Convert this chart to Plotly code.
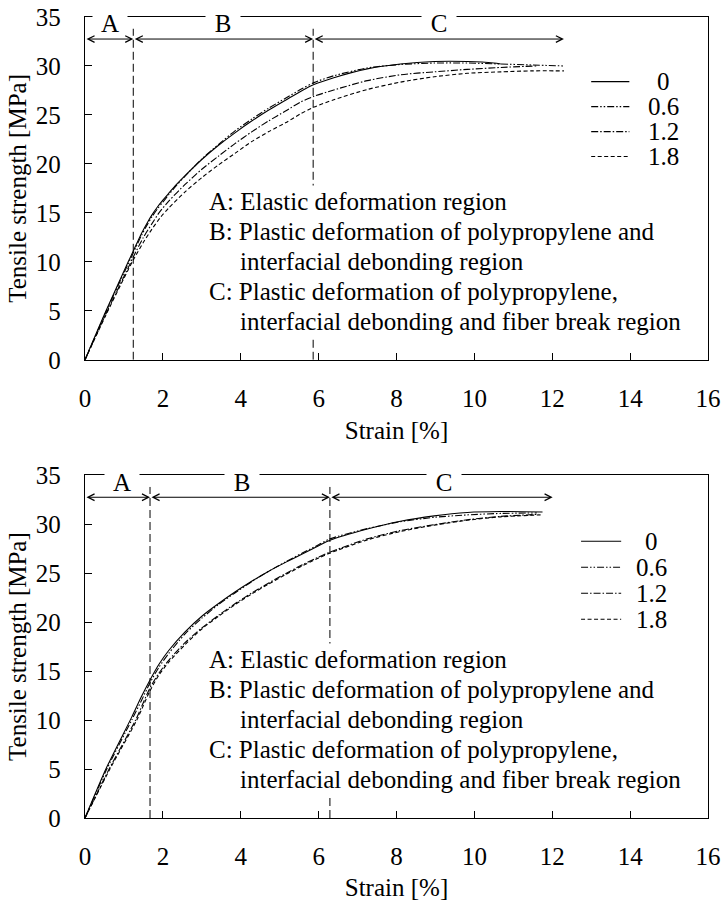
import plotly.graph_objects as go

FONT = "Liberation Serif"

series_names = ["0", "0.6", "1.2", "1.8"]
line_dashes = ["solid", "7px,2px,1.5px,2px,1.5px,2px", "7px,2px,1.5px,2px", "4px,2.5px"]

# ---------------- upper chart data ----------------
top_x_0 = [0, 0.54, 1.11, 1.24, 1.45, 1.6, 1.72, 1.86, 2.0, 2.15, 2.35, 2.57, 3.0, 3.43, 3.86, 4.29, 4.72, 5.15, 5.58, 5.88, 6.39, 7.25, 8.1, 8.97, 9.82, 10.5, 10.68]
top_y_0 = [0, 5.0, 10.0, 11.1, 12.9, 14.0, 14.8, 15.6, 16.3, 17.0, 17.9, 18.8, 20.45, 21.9, 23.2, 24.4, 25.5, 26.5, 27.5, 28.1, 28.8, 29.7, 30.2, 30.45, 30.45, 30.3, 30.2]
top_x_06 = [0, 0.54, 1.11, 1.24, 1.45, 1.6, 1.72, 1.86, 2.0, 2.15, 2.35, 2.57, 3.0, 3.43, 3.86, 4.29, 4.72, 5.15, 5.58, 5.88, 6.39, 7.25, 8.1, 8.97, 9.82, 10.68, 11.5, 12.3]
top_y_06 = [0, 4.9, 9.8, 10.9, 12.7, 13.8, 14.6, 15.4, 16.1, 16.85, 17.8, 18.75, 20.5, 22.0, 23.4, 24.6, 25.7, 26.7, 27.7, 28.3, 29.0, 29.8, 30.15, 30.3, 30.3, 30.2, 30.1, 30.0]
top_x_12 = [0, 0.54, 1.11, 1.24, 1.5, 1.72, 1.9, 2.15, 2.57, 3.0, 3.43, 3.86, 4.29, 4.72, 5.15, 5.53, 5.88, 6.39, 7.25, 8.1, 8.97, 9.82, 10.68, 11.6]
top_y_12 = [0, 4.7, 9.4, 10.5, 12.5, 13.9, 15.0, 16.2, 17.9, 19.45, 20.8, 22.1, 23.3, 24.4, 25.4, 26.3, 26.9, 27.55, 28.5, 29.1, 29.4, 29.65, 29.85, 30.0]
top_x_18 = [0, 0.54, 1.11, 1.24, 1.5, 1.72, 1.95, 2.15, 2.57, 3.0, 3.43, 3.86, 4.29, 4.72, 5.15, 5.53, 5.88, 6.39, 7.25, 8.1, 8.97, 9.82, 10.68, 11.5, 12.3]
top_y_18 = [0, 4.6, 9.2, 10.2, 12.0, 13.35, 14.6, 15.5, 17.15, 18.6, 19.9, 21.1, 22.3, 23.3, 24.2, 25.1, 25.8, 26.55, 27.6, 28.35, 28.9, 29.25, 29.4, 29.5, 29.5]

# ---------------- lower chart data ----------------
bot_x_0 = [0, 0.56, 1.2, 1.45, 1.67, 1.9, 2.15, 2.57, 3.0, 3.43, 3.86, 4.29, 4.72, 5.15, 5.58, 6.0, 6.29, 7.25, 8.1, 8.97, 9.82, 10.68, 11.75]
bot_y_0 = [0, 5.2, 10.3, 12.4, 14.1, 15.7, 17.1, 19.0, 20.6, 21.9, 23.1, 24.2, 25.2, 26.1, 26.95, 27.8, 28.35, 29.5, 30.3, 30.85, 31.2, 31.3, 31.25]
bot_x_06 = [0, 0.56, 1.2, 1.45, 1.67, 1.9, 2.15, 2.57, 3.0, 3.43, 3.86, 4.29, 4.72, 5.15, 5.58, 6.0, 6.29, 7.25, 8.1, 8.97, 9.82, 10.68, 11.6]
bot_y_06 = [0, 5.0, 10.0, 12.0, 13.8, 15.4, 16.8, 18.8, 20.4, 21.8, 23.0, 24.15, 25.2, 26.15, 27.05, 27.9, 28.5, 29.55, 30.25, 30.7, 30.95, 31.1, 31.15]
bot_x_12 = [0, 0.62, 1.3, 1.5, 1.67, 1.9, 2.15, 2.57, 3.0, 3.43, 3.86, 4.29, 4.72, 5.15, 5.58, 6.0, 6.29, 7.25, 8.1, 8.97, 9.82, 10.68, 11.65]
bot_y_12 = [0, 5.0, 10.0, 11.8, 13.3, 14.8, 16.1, 17.9, 19.4, 20.7, 21.9, 23.0, 24.0, 24.95, 25.85, 26.65, 27.15, 28.5, 29.35, 29.95, 30.45, 30.8, 31.0]
bot_x_18 = [0, 0.64, 1.33, 1.5, 1.67, 1.9, 2.15, 2.57, 3.0, 3.43, 3.86, 4.29, 4.72, 5.15, 5.58, 6.0, 6.29, 7.25, 8.1, 8.97, 9.82, 10.68, 11.7]
bot_y_18 = [0, 5.0, 10.0, 11.5, 13.0, 14.6, 15.9, 17.7, 19.3, 20.6, 21.8, 22.9, 23.9, 24.85, 25.75, 26.55, 27.05, 28.4, 29.25, 29.9, 30.4, 30.75, 30.95]

# region boundaries (strain %), end of region C arrow, label positions
region_labels = ["A", "B", "C"]
top_bounds = [0, 1.24, 5.86, 12.3]
bot_bounds = [0, 1.67, 6.29, 12.01]
top_label_x = [0.64, 3.54, 9.09]
bot_label_x = [0.95, 4.03, 9.22]

desc_lines = [
    "A: Elastic deformation region",
    "B: Plastic deformation of polypropylene and",
    "interfacial debonding region",
    "C: Plastic deformation of polypropylene,",
    "interfacial debonding and fiber break region",
]
desc_indent = [False, False, True, False, True]

x_ticks = [0, 2, 4, 6, 8, 10, 12, 14, 16]
y_ticks = [0, 5, 10, 15, 20, 25, 30, 35]

# ---------------- layout constants ----------------
W, H = 723, 901
ML, MR, MT, MB = 85, 15.3, 17, 82.5
FS = 25
ARROW_Y = 32.75
VLINE_TOP = 33.8
LABEL_Y = 34.35
desc_y = [16.15, 13.1, 10.03, 6.97, 3.91]
top_leg = dict(y=[28.4, 25.85, 23.3, 20.75], x0=13.0, x1=13.98, xt=14.85)
bot_leg = dict(y=[28.25, 25.6, 22.95, 20.3], x0=12.74, x1=13.77, xt=14.54)

fig = go.Figure()

charts = [
    dict(xs=[top_x_0, top_x_06, top_x_12, top_x_18], ys=[top_y_0, top_y_06, top_y_12, top_y_18],
         xa="x", ya="y", bounds=top_bounds, lx=top_label_x, leg=top_leg),
    dict(xs=[bot_x_0, bot_x_06, bot_x_12, bot_x_18], ys=[bot_y_0, bot_y_06, bot_y_12, bot_y_18],
         xa="x2", ya="y2", bounds=bot_bounds, lx=bot_label_x, leg=bot_leg),
]

annotations = []
shapes = []
for ch in charts:
    for name, dash, xv, yv in zip(series_names, line_dashes, ch["xs"], ch["ys"]):
        fig.add_trace(go.Scatter(x=xv, y=yv, name=name, mode="lines", xaxis=ch["xa"], yaxis=ch["ya"],
                                 line=dict(color="black", width=1.1, dash=dash, shape="spline", smoothing=0.7),
                                 showlegend=False, hoverinfo="skip"))
    b = ch["bounds"]
    # dashed region boundaries
    for bx in b[1:3]:
        shapes.append(dict(type="line", xref=ch["xa"], yref=ch["ya"], x0=bx, x1=bx, y0=0, y1=VLINE_TOP,
                           line=dict(color="black", width=1, dash="8px,4px"), layer="above"))
    # description text (white background hides the boundary line)
    for txt, ind, yy in zip(desc_lines, desc_indent, desc_y):
        annotations.append(dict(text=txt, xref=ch["xa"], yref=ch["ya"], x=3.91 if ind else 3.12, y=yy,
                                xanchor="left", yanchor="middle", showarrow=False, bgcolor="white",
                                borderpad=2, font=dict(family=FONT, size=FS, color="black")))
    # region labels on top frame
    for lab, lx in zip(region_labels, ch["lx"]):
        annotations.append(dict(text=lab, xref=ch["xa"], yref=ch["ya"], x=lx, y=LABEL_Y, showarrow=False,
                                bgcolor="white", width=34, height=24, borderpad=0,
                                font=dict(family=FONT, size=FS, color="black")))
    # double arrows
    for i in range(3):
        annotations.append(dict(text="", xref=ch["xa"], yref=ch["ya"], axref=ch["xa"], ayref=ch["ya"],
                                x=b[i + 1], y=ARROW_Y, ax=b[i], ay=ARROW_Y, showarrow=True,
                                arrowside="end+start", arrowhead=5, startarrowhead=5,
                                arrowsize=1.3, startarrowsize=1.3, arrowwidth=1, arrowcolor="black",
                                standoff=0, startstandoff=0))
    # legend (manual)
    lg = ch["leg"]
    for name, dash, ly in zip(series_names, line_dashes, lg["y"]):
        shapes.append(dict(type="line", xref=ch["xa"], yref=ch["ya"], x0=lg["x0"], x1=lg["x1"], y0=ly, y1=ly,
                           line=dict(color="black", width=1.1, dash=dash)))
        annotations.append(dict(text=name, xref=ch["xa"], yref=ch["ya"], x=lg["xt"], y=ly, showarrow=False,
                                xanchor="center", yanchor="middle",
                                font=dict(family=FONT, size=FS, color="black")))

plot_h = H - MT - MB
dom_h = 343 / plot_h

axis_common = dict(showline=True, linecolor="black", linewidth=1.3, mirror=True, ticks="inside",
                   ticklen=7, tickwidth=1, tickcolor="black", showgrid=False, zeroline=False,
                   automargin=False, tickfont=dict(family=FONT, size=FS, color="black"))

xa = dict(axis_common, range=[0, 16], tickvals=x_ticks, ticklabelstandoff=16,
          title=dict(text="Strain [%]", font=dict(family=FONT, size=FS, color="black"), standoff=10))
ya = dict(axis_common, range=[0, 35], tickvals=y_ticks, ticklabelstandoff=18,
          title=dict(text="Tensile strength [MPa]", font=dict(family=FONT, size=FS, color="black"), standoff=2))

fig.update_layout(
    width=W, height=H, margin=dict(l=ML, r=MR, t=MT, b=MB),
    paper_bgcolor="white", plot_bgcolor="white",
    font=dict(family=FONT, size=FS, color="black"),
    xaxis=dict(xa, domain=[0, 1], anchor="y"),
    yaxis=dict(ya, domain=[1 - dom_h, 1], anchor="x"),
    xaxis2=dict(xa, domain=[0, 1], anchor="y2"),
    yaxis2=dict(ya, domain=[0, dom_h], anchor="x2"),
    annotations=annotations, shapes=shapes, showlegend=False,
)

fig.write_html("out.html")
